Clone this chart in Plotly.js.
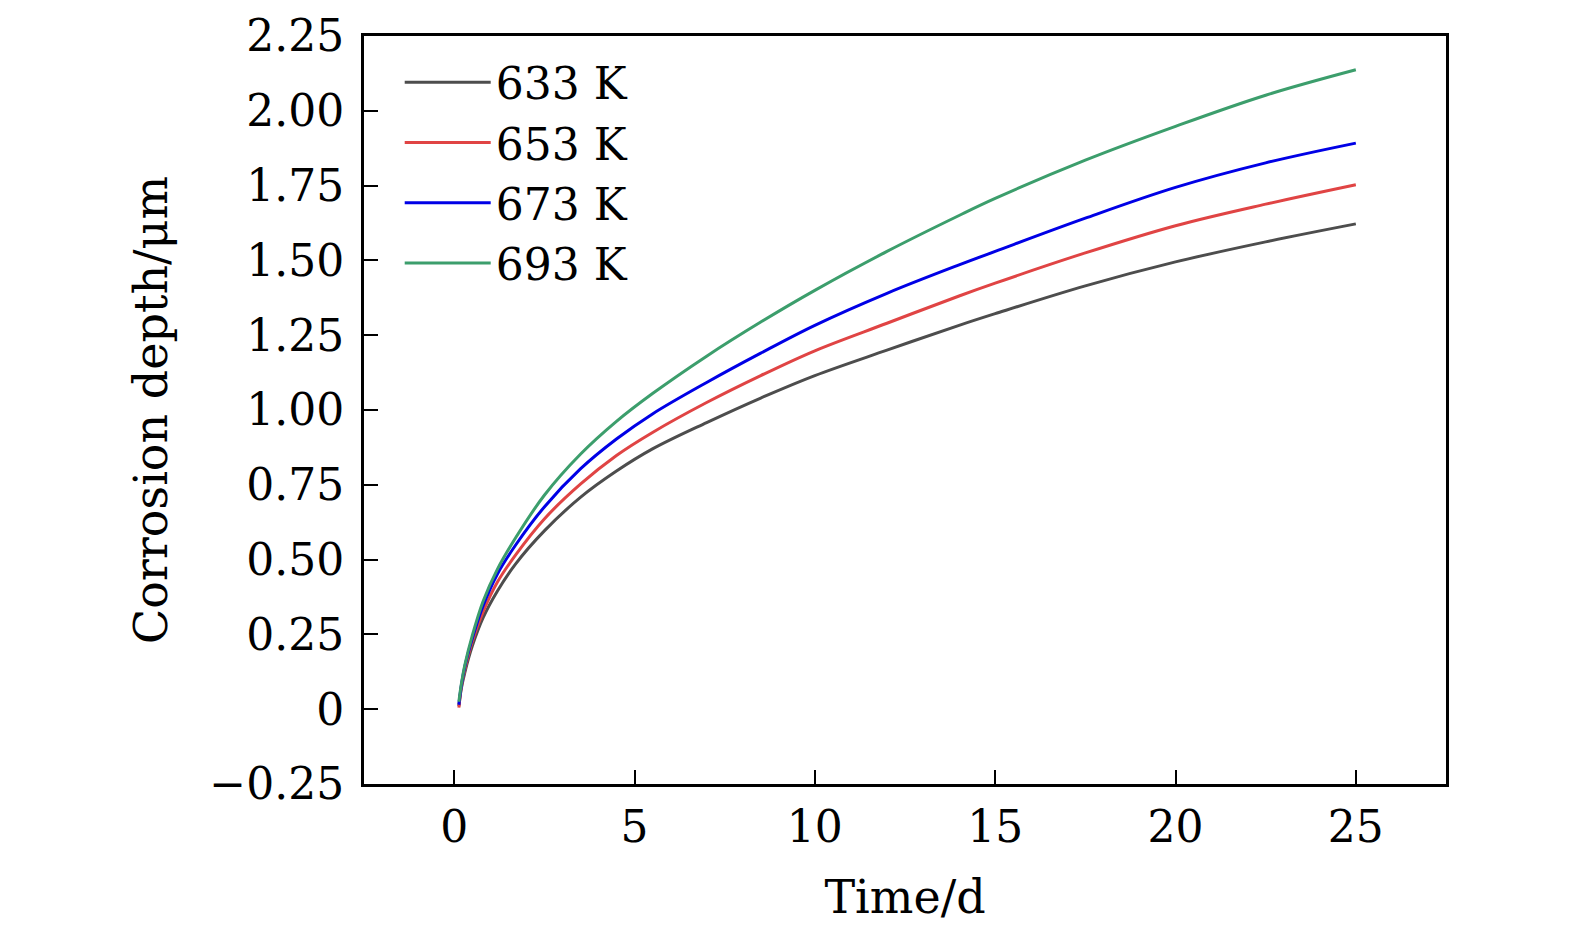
<!DOCTYPE html>
<html>
<head>
<meta charset="utf-8">
<script src="https://cdn.plot.ly/plotly-3.0.1.min.js"></script>
<style>html,body{margin:0;padding:0;background:#fff;}</style>
</head>
<body>
<div id="chart" style="width:1575px;height:935px;"></div>
<script>
// Time (days)
const timeDays = [0.13, 0.2, 0.3, 0.5, 0.8, 1.2, 1.7, 2.5, 3.5, 4.5, 5.5, 7, 8.5, 10, 12, 14, 15, 17.5, 20, 22.5, 25];
// Corrosion depth (µm) per temperature
const depth633K = [0.01, 0.07, 0.125, 0.21, 0.305, 0.395, 0.485, 0.596, 0.708, 0.796, 0.870, 0.958, 1.04, 1.115, 1.20, 1.283, 1.322, 1.415, 1.495, 1.562, 1.622];
const depth653K = [0.005, 0.075, 0.135, 0.225, 0.325, 0.425, 0.515, 0.636, 0.752, 0.848, 0.925, 1.025, 1.115, 1.198, 1.290, 1.381, 1.424, 1.525, 1.616, 1.688, 1.753];
const depth673K = [0.015, 0.08, 0.145, 0.235, 0.345, 0.452, 0.548, 0.676, 0.803, 0.903, 0.987, 1.092, 1.190, 1.283, 1.390, 1.485, 1.530, 1.641, 1.744, 1.826, 1.892];
const depth693K = [0.025, 0.085, 0.15, 0.245, 0.36, 0.468, 0.572, 0.715, 0.852, 0.962, 1.055, 1.18, 1.294, 1.40, 1.53, 1.65, 1.707, 1.835, 1.948, 2.052, 2.137];
const seriesNames = ["633 K", "653 K", "673 K", "693 K"];
const seriesColors = ["#4d4d4d", "#e04444", "#0000e6", "#3c9e6c"];

const xTickVals = [0, 5, 10, 15, 20, 25];
const yTickVals = [-0.25, 0, 0.25, 0.5, 0.75, 1.0, 1.25, 1.5, 1.75, 2.0, 2.25];
const yTickText = ["\u22120.25", "0", "0.25", "0.50", "0.75", "1.00", "1.25", "1.50", "1.75", "2.00", "2.25"];

const FONT = "DejaVu Serif, Liberation Serif, serif";
const FS = 44;
const allDepths = [depth633K, depth653K, depth673K, depth693K];

const traces = allDepths.map((d, i) => ({
  x: timeDays,
  y: d,
  type: "scatter",
  mode: "lines",
  name: seriesNames[i],
  line: {color: seriesColors[i], width: 3, shape: "spline", smoothing: 1}
}));

const axisCommon = {
  showgrid: false,
  zeroline: false,
  showline: true,
  linecolor: "#000",
  linewidth: 3,
  mirror: true,
  ticks: "inside",
  ticklen: 14,
  tickwidth: 2,
  tickcolor: "#000",
  tickfont: {family: FONT, size: FS, color: "#000"}
};

const layout = {
  width: 1575,
  height: 935,
  paper_bgcolor: "#fff",
  plot_bgcolor: "#fff",
  margin: {l: 364, r: 129, t: 36, b: 151, pad: 0},
  font: {family: FONT, size: FS, color: "#000"},
  xaxis: Object.assign({}, axisCommon, {
    range: [-2.5, 27.5],
    tickmode: "array",
    tickvals: xTickVals,
    ticktext: xTickVals.map(String),
    ticklabelstandoff: 2,
    title: {text: "Time/d", font: {family: FONT, size: 46, color: "#000"}, standoff: 31}
  }),
  yaxis: Object.assign({}, axisCommon, {
    range: [-0.25, 2.25],
    tickmode: "array",
    tickvals: yTickVals,
    ticktext: yTickText,
    ticklabelstandoff: 8,
    title: {text: "Corrosion depth/\u03bcm", font: {family: FONT, size: 46, color: "#000"}, standoff: 28}
  }),
  showlegend: true,
  legend: {
    x: 0.033,
    y: 0.985,
    xanchor: "left",
    yanchor: "top",
    bgcolor: "rgba(0,0,0,0)",
    borderwidth: 0,
    itemwidth: 86,
    font: {family: FONT, size: FS, color: "#000"},
    tracegroupgap: 0
  }
};

Plotly.newPlot("chart", traces, layout, {displayModeBar: false, staticPlot: true});
</script>
</body>
</html>
